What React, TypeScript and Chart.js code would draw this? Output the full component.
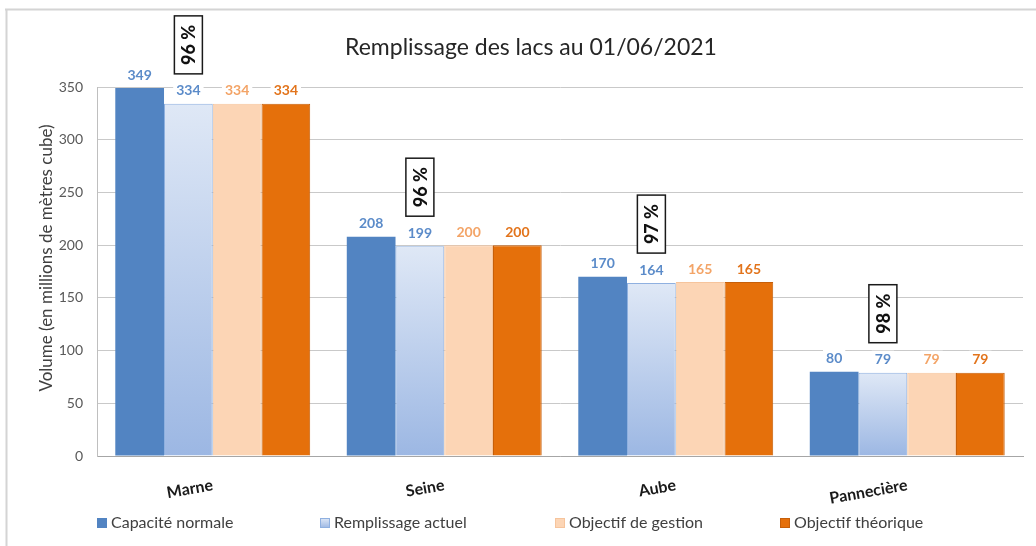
import React, { useEffect, useRef } from 'react';
import { Chart, registerables } from 'chart.js';

Chart.register(...registerables);

// ---- Data ----
const categories = ['Marne', 'Seine', 'Aube', 'Pannecière'];
const seriesNames = ['Capacité normale', 'Remplissage actuel', 'Objectif de gestion', 'Objectif théorique'];
const capaciteNormale = [349, 208, 170, 80];
const remplissageActuel = [334, 199, 164, 79];
const objectifGestion = [334, 200, 165, 79];
const objectifTheorique = [334, 200, 165, 79];
const tauxRemplissage = ['96 %', '96 %', '97 %', '98 %'];
const yMin = 0;
const yMax = 350;
const yStep = 50;
const chartTitle = 'Remplissage des lacs au 01/06/2021';
const yAxisTitle = 'Volume (en millions de mètres cube)';

// ---- Styles ----
const FONT = 'Lato, "Open Sans", "Liberation Sans", sans-serif';
const W = 1036;
const H = 546;
const barFills = ['#5284c2', '#c5d5ef', '#fcd5b5', '#e5700b'];
const barBorders = ['#5284c2', '#8fb0e0', '#f6c49c', '#c65f0a'];
const labelColors = ['#5b8bc9', '#5b8bc9', '#f3a467', '#e2741c'];
const legendX = [97, 320, 555, 780];

function remplissageGradient(chart: any, top: number, bottom: number) {
  const g = chart.ctx.createLinearGradient(0, top, 0, bottom);
  g.addColorStop(0, '#dfe8f6');
  g.addColorStop(1, '#9cb7e3');
  return g;
}

const decorPlugin = {
  id: 'decor',
  beforeDraw(chart: any) {
    const ctx = chart.ctx;
    ctx.save();
    ctx.fillStyle = '#ffffff';
    ctx.fillRect(0, 0, W, H);
    // frame
    ctx.strokeStyle = '#d4d4d4';
    ctx.lineWidth = 2;
    ctx.beginPath();
    ctx.moveTo(5, 9.5);
    ctx.lineTo(W, 9.5);
    ctx.moveTo(6.5, 9);
    ctx.lineTo(6.5, H);
    ctx.stroke();
    // title
    ctx.fillStyle = '#262626';
    ctx.font = `23px ${FONT}`;
    ctx.textAlign = 'center';
    ctx.textBaseline = 'middle';
    ctx.fillText(chartTitle, 531, 48);
    // y axis title
    ctx.translate(47, 258);
    ctx.rotate(-Math.PI / 2);
    ctx.fillStyle = '#404040';
    ctx.font = `17px ${FONT}`;
    ctx.fillText(yAxisTitle, 0, 0);
    ctx.restore();
  },
  afterDatasetsDraw(chart: any) {
    const ctx = chart.ctx;
    ctx.save();
    // value labels
    ctx.textAlign = 'center';
    ctx.textBaseline = 'middle';
    ctx.font = `bold 14px ${FONT}`;
    chart.data.datasets.forEach((ds: any, di: number) => {
      const meta = chart.getDatasetMeta(di);
      meta.data.forEach((bar: any, i: number) => {
        const txt = String(ds.data[i]);
        const y = bar.y - 13;
        const w = ctx.measureText(txt).width + 6;
        ctx.fillStyle = '#ffffff';
        ctx.fillRect(bar.x - w / 2, y - 9, w, 18);
        ctx.fillStyle = labelColors[di];
        ctx.fillText(txt, bar.x, y);
      });
    });
    // percentage boxes
    const meta1 = chart.getDatasetMeta(1);
    meta1.data.forEach((bar: any, i: number) => {
      const bw = 28;
      const bh = 58;
      const bottom = bar.y - 30;
      const x = bar.x - bw / 2;
      const top = bottom - bh;
      ctx.fillStyle = '#ffffff';
      ctx.fillRect(x, top, bw, bh);
      ctx.strokeStyle = '#1a1a1a';
      ctx.lineWidth = 1.5;
      ctx.strokeRect(x, top, bw, bh);
      ctx.save();
      ctx.translate(bar.x, top + bh / 2);
      ctx.rotate(-Math.PI / 2);
      ctx.fillStyle = '#111111';
      ctx.font = `900 18px ${FONT}`;
      ctx.textAlign = 'center';
      ctx.textBaseline = 'middle';
      ctx.fillText(tauxRemplissage[i], 0, 1);
      ctx.restore();
    });
    // x category labels (rotated)
    const xs = chart.scales.x;
    ctx.font = `bold 16px ${FONT}`;
    ctx.fillStyle = '#1a1a1a';
    categories.forEach((c, i) => {
      const cx = xs.getPixelForTick(i);
      ctx.save();
      ctx.translate(cx, 485);
      ctx.rotate(-10 * Math.PI / 180);
      ctx.textAlign = 'right';
      ctx.textBaseline = 'middle';
      ctx.fillText(c, 0, 0);
      ctx.restore();
    });
    // legend
    ctx.font = `16px ${FONT}`;
    ctx.textAlign = 'left';
    ctx.textBaseline = 'middle';
    const ly = 523;
    seriesNames.forEach((name, i) => {
      const x = legendX[i];
      let fill: any = barFills[i];
      if (i === 1) fill = remplissageGradient(chart, ly - 5, ly + 5);
      ctx.fillStyle = fill;
      ctx.fillRect(x, ly - 5, 10, 10);
      ctx.strokeStyle = barBorders[i];
      ctx.lineWidth = 1;
      ctx.strokeRect(x + 0.5, ly - 4.5, 9, 9);
      ctx.fillStyle = '#404040';
      ctx.fillText(name, x + 14, ly);
    });
    ctx.restore();
  },
};

export default function App() {
  const ref = useRef<HTMLCanvasElement | null>(null);
  useEffect(() => {
    document.body.style.margin = '0';
    const canvas = ref.current;
    if (!canvas) return;
    const remplissageFill = (c: any) => {
      const chart = c.chart;
      if (!chart.chartArea || c.type !== 'data') return barFills[1];
      const ys = chart.scales.y;
      const top = ys.getPixelForValue(c.raw);
      const bottom = ys.getPixelForValue(0);
      return remplissageGradient(chart, top, bottom);
    };
    const chart = new Chart(canvas, {
      type: 'bar',
      data: {
        labels: categories,
        datasets: [
          { label: seriesNames[0], data: capaciteNormale, backgroundColor: barFills[0], borderColor: barBorders[0], borderWidth: 0 },
          { label: seriesNames[1], data: remplissageActuel, backgroundColor: remplissageFill, borderColor: barBorders[1], borderWidth: 1 },
          { label: seriesNames[2], data: objectifGestion, backgroundColor: barFills[2], borderColor: barBorders[2], borderWidth: 1 },
          { label: seriesNames[3], data: objectifTheorique, backgroundColor: barFills[3], borderColor: barBorders[3], borderWidth: 1 },
        ],
      },
      options: {
        responsive: false,
        animation: false,
        devicePixelRatio: 1,
        layout: { padding: { top: 87, right: 13, bottom: 0, left: 0 } },
        datasets: { bar: { categoryPercentage: 0.842, barPercentage: 1 } },
        plugins: {
          legend: { display: false },
          title: { display: false },
          tooltip: { enabled: false },
        },
        scales: {
          x: {
            grid: { display: false },
            border: { display: true, color: '#a6a6a6', width: 1 },
            ticks: { display: false },
            afterFit: (s: any) => { s.height = 90; },
          },
          y: {
            min: yMin,
            max: yMax,
            ticks: { stepSize: yStep, color: '#595959', font: { family: FONT, size: 14 }, padding: 14 },
            grid: { color: '#c9c9c9', drawTicks: false },
            border: { display: true, color: '#bfbfbf' },
            afterFit: (s: any) => { s.width = 97; },
          },
        },
      },
      plugins: [decorPlugin],
    } as any);
    return () => chart.destroy();
  }, []);
  return <canvas ref={ref} width={W} height={H} style={{ display: 'block' }} />;
}
